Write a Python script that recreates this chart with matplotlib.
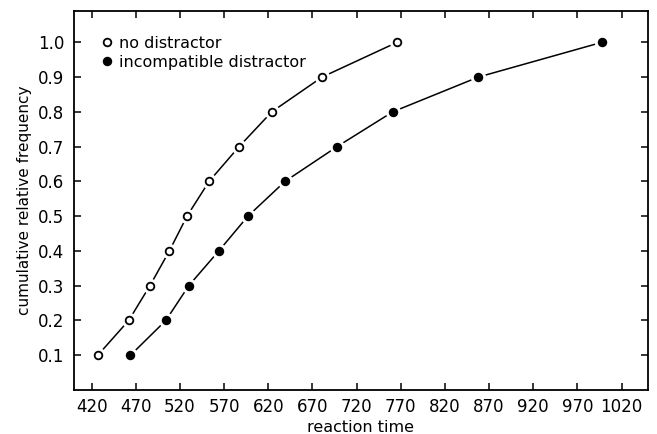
import matplotlib
matplotlib.use("Agg")
import matplotlib.pyplot as plt
from matplotlib.lines import Line2D

# ---- data ----
freq = [0.1, 0.2, 0.3, 0.4, 0.5, 0.6, 0.7, 0.8, 0.9, 1.0]
rt_no_distractor = [427, 462, 486, 508, 528, 553, 587, 624, 681, 766]
rt_incompatible = [464, 504, 530, 564, 597, 639, 698, 761, 858, 998]
xticks = [420, 470, 520, 570, 620, 670, 720, 770, 820, 870, 920, 970, 1020]
yticks = [0.1, 0.2, 0.3, 0.4, 0.5, 0.6, 0.7, 0.8, 0.9, 1.0]
labels = ["no distractor", "incompatible distractor"]

plt.rcParams['font.family'] = ['DejaVu Sans']

fig = plt.figure(figsize=(6.57, 4.34), dpi=100)
ax = fig.add_axes([0.1126, 0.1014, 0.8737, 0.8733])

for rt, filled in ((rt_no_distractor, False), (rt_incompatible, True)):
    ax.plot(rt, freq, color='black', lw=1.1, zorder=2)
    ax.plot(rt, freq, ls='none', marker='o', ms=10, mfc='white', mec='white', zorder=3)
    ax.plot(rt, freq, ls='none', marker='o', ms=5.5,
            mfc='black' if filled else 'white', mec='black', mew=1.3, zorder=4)

ax.set_xlim(400, 1050)
ax.set_ylim(0.0, 1.09)
ax.set_xticks(xticks)
ax.set_xticklabels([str(v) for v in xticks])
ax.set_yticks(yticks)
ax.set_yticklabels([f"{v:.1f}" for v in yticks])

ax.tick_params(axis='both', direction='in', length=5, width=1.1,
               top=True, right=True, labelsize=12)
ax.tick_params(axis='y', pad=7)
ax.tick_params(axis='x', pad=6)
for s in ax.spines.values():
    s.set_linewidth(1.3)

ax.set_xlabel("reaction time", fontsize=11.5, labelpad=3)
ax.set_ylabel("cumulative relative frequency", fontsize=11, labelpad=4)

handles = [
    Line2D([], [], ls='none', marker='o', ms=5.5, mfc='white', mec='black', mew=1.3),
    Line2D([], [], ls='none', marker='o', ms=5.5, mfc='black', mec='black', mew=1.3),
]
ax.legend(handles, labels, loc='upper left', bbox_to_anchor=(0.05, 0.935),
          frameon=False, fontsize=11.5, handlelength=0.6, handletextpad=0.4,
          labelspacing=0.25, borderpad=0, borderaxespad=0)

fig.savefig("out.png", dpi=100)
